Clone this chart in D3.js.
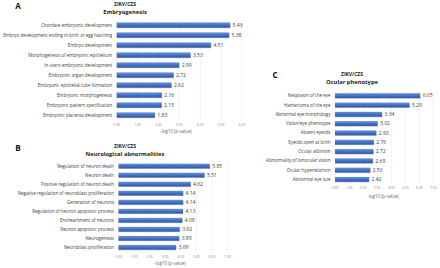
<!DOCTYPE html>
<html>
<head>
<meta charset="utf-8">
<script src="https://cdn.jsdelivr.net/npm/d3@7"></script>
<style>
  body { margin: 0; background: #fff; }
  svg { display: block; font-family: "Open Sans", "Noto Sans", sans-serif; }
</style>
</head>
<body>
<svg width="440" height="268"></svg>
<script>
const embryoTerms = [
  "Chordate embryonic development",
  "Embryo development ending in birth or egg hatching",
  "Embryo development",
  "Morphogenesis of embryonic epithelium",
  "In utero embryonic development",
  "Embryonic organ development",
  "Embryonic epithelial tube formation",
  "Embryonic morphogenesis",
  "Embryonic pattern specification",
  "Embryonic placenta development",
];
const embryoValues = [5.43, 5.38, 4.51, 3.53, 2.99, 2.72, 2.62, 2.16, 2.15, 1.83];

const neuroTerms = [
  "Regulation of neuron death",
  "Neuron death",
  "Positive regulation of neuron death",
  "Negative regulation of neuroblast proliferation",
  "Generation of neurons",
  "Regulation of neuron apoptotic process",
  "Ensheathment of neurons",
  "Neuron apoptotic process",
  "Neurogenesis",
  "Neuroblast proliferation",
];
const neuroValues = [5.85, 5.51, 4.62, 4.14, 4.14, 4.13, 4.09, 3.92, 3.89, 3.69];

const ocularTerms = [
  "Neoplasm of the eye",
  "Hamartoma of the eye",
  "Abnormal eye morphology",
  "Vision/eye phenotype",
  "Absent eyelids",
  "Eyelids open at birth",
  "Ocular albinism",
  "Abnormality of binocular vision",
  "Ocular hypertelorism",
  "Abnormal eye size",
];
const ocularValues = [6.05, 5.29, 3.34, 3.02, 2.93, 2.76, 2.72, 2.69, 2.50, 2.42];

const ticksA = [0, 1, 2, 3, 4, 5, 6];
const ticksBC = [0, 1, 2, 3, 4, 5, 6, 7];

const svg = d3.select("svg");

const defs = svg.append("defs");
const grad = defs.append("linearGradient")
  .attr("id", "barGrad")
  .attr("x1", 0).attr("y1", 0).attr("x2", 0).attr("y2", 1);
grad.append("stop").attr("offset", "0%").attr("stop-color", "#6b93dc");
grad.append("stop").attr("offset", "50%").attr("stop-color", "#4472c4");
grad.append("stop").attr("offset", "100%").attr("stop-color", "#2c58a8");

const panels = [
  {
    letter: "A", subtitle: "Embryogenesis",
    terms: embryoTerms, values: embryoValues, ticks: ticksA,
    x0: 116.7, x1: 242, y0: 20, y1: 120,
    letterPos: [18, 8.5], titleX: 125, titleY: 6,
    tickY: 126, axisTitle: [176, 133],
  },
  {
    letter: "B", subtitle: "Neurological abnormalities",
    terms: neuroTerms, values: neuroValues, ticks: ticksBC,
    x0: 118.5, x1: 227.7, y0: 161.5, y1: 251.8,
    letterPos: [18, 150.5], titleX: 125, titleY: 147.5,
    tickY: 257.5, axisTitle: [170, 264.5],
  },
  {
    letter: "C", subtitle: "Ocular phenotype",
    terms: ocularTerms, values: ocularValues, ticks: ticksBC,
    x0: 335, x1: 433.5, y0: 91, y1: 184,
    letterPos: [275, 77.5], titleX: 352, titleY: 76,
    tickY: 188.5, axisTitle: [383, 197.5],
  },
];

panels.forEach((p) => {
  const g = svg.append("g");
  const data = p.terms.map((t, i) => ({ term: t, value: p.values[i] }));

  const x = d3.scaleLinear()
    .domain([0, d3.max(p.ticks)])
    .range([p.x0, p.x1]);
  const y = d3.scaleBand()
    .domain(p.terms)
    .range([p.y0, p.y1])
    .paddingInner(0.48)
    .paddingOuter(0.24);

  // grid
  g.selectAll("line.grid")
    .data(p.ticks)
    .enter()
    .append("line")
    .attr("x1", (d) => x(d)).attr("x2", (d) => x(d))
    .attr("y1", p.y0).attr("y2", p.y1)
    .attr("stroke", "#e4e4e4")
    .attr("stroke-width", 0.5);

  // tick labels
  g.selectAll("text.tick")
    .data(p.ticks)
    .enter()
    .append("text")
    .attr("x", (d) => x(d))
    .attr("y", p.tickY)
    .attr("text-anchor", "middle")
    .attr("font-size", 3.4)
    .attr("fill", "#8a8a8a")
    .text((d) => d3.format(".2f")(d));

  // shadow
  g.selectAll("rect.shadow")
    .data(data)
    .enter()
    .append("rect")
    .attr("x", x(0) + 0.4)
    .attr("y", (d) => y(d.term) + 0.6)
    .attr("width", (d) => x(d.value) - x(0))
    .attr("height", y.bandwidth())
    .attr("fill", "#b8b8b8");

  g.selectAll("rect.bar")
    .data(data)
    .enter()
    .append("rect")
    .attr("x", x(0))
    .attr("y", (d) => y(d.term))
    .attr("width", (d) => x(d.value) - x(0))
    .attr("height", y.bandwidth())
    .attr("fill", "url(#barGrad)");

  // category labels
  g.selectAll("text.cat")
    .data(data)
    .enter()
    .append("text")
    .attr("x", p.x0 - 4.5)
    .attr("y", (d) => y(d.term) + y.bandwidth() / 2)
    .attr("dy", "0.35em")
    .attr("text-anchor", "end")
    .attr("font-size", 4.45)
    .attr("fill", "#404040")
    .text((d) => d.term);

  // value labels
  g.selectAll("text.val")
    .data(data)
    .enter()
    .append("text")
    .attr("x", (d) => x(d.value) + 2.5)
    .attr("y", (d) => y(d.term) + y.bandwidth() / 2)
    .attr("dy", "0.35em")
    .attr("font-size", 5)
    .attr("fill", "#404040")
    .text((d) => d3.format(".2f")(d.value));

  // titles
  g.append("text")
    .attr("x", p.titleX).attr("y", p.titleY)
    .attr("text-anchor", "middle")
    .attr("font-size", 5)
    .attr("font-weight", "bold")
    .attr("fill", "#222")
    .text("ZIKV/CZS");
  g.append("text")
    .attr("x", p.titleX).attr("y", p.titleY + 8)
    .attr("text-anchor", "middle")
    .attr("font-size", 5.8)
    .attr("font-weight", "bold")
    .attr("fill", "#222")
    .text(p.subtitle);

  g.append("text")
    .attr("x", p.letterPos[0]).attr("y", p.letterPos[1])
    .attr("text-anchor", "middle")
    .attr("font-size", 8)
    .attr("font-weight", "bold")
    .attr("fill", "#111")
    .text(p.letter);

  g.append("text")
    .attr("x", p.axisTitle[0]).attr("y", p.axisTitle[1])
    .attr("text-anchor", "middle")
    .attr("font-size", 4.4)
    .attr("fill", "#666")
    .text("-log10 (p-value)");
});
</script>
</body>
</html>
